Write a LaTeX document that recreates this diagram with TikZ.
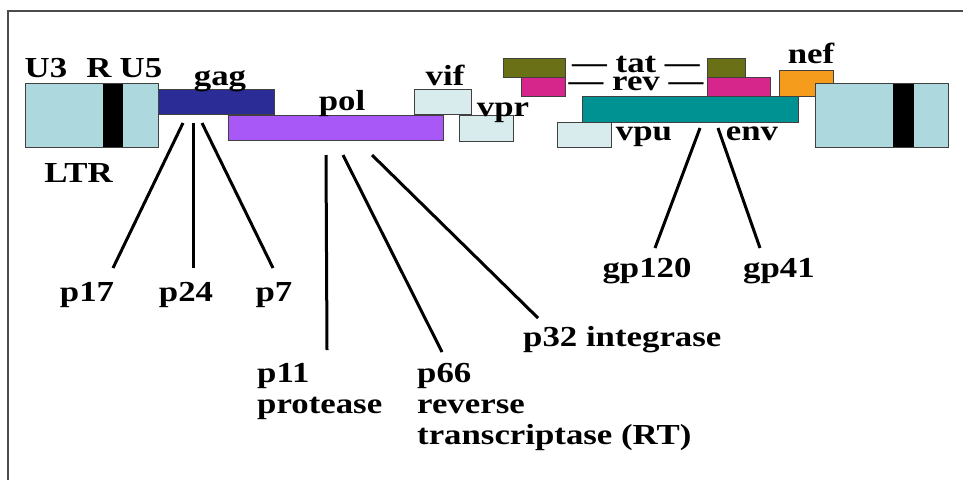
\documentclass[tikz,border=0pt]{standalone}
\usepackage{fontspec}
\setmainfont[FakeStretch=1.2]{Liberation Serif}
\definecolor{ltrc}{RGB}{172,216,222}
\definecolor{gagc}{RGB}{44,44,150}
\definecolor{polc}{RGB}{168,88,246}
\definecolor{accc}{RGB}{216,236,238}
\definecolor{tatc}{RGB}{106,112,22}
\definecolor{revc}{RGB}{214,38,140}
\definecolor{nefc}{RGB}{246,156,28}
\definecolor{envc}{RGB}{0,146,146}
\begin{document}
\begin{tikzpicture}[x=1pt,y=-1pt,
  lbl/.style={font=\fontsize{29}{31}\selectfont\bfseries, inner sep=0pt, anchor=base},
  mlbl/.style={font=\fontsize{29}{31}\selectfont\bfseries, inner sep=0pt, anchor=north west, align=left},
  gene/.style={draw=black!75, line width=0.8pt, inner sep=0pt, anchor=north west},
  band/.style={fill=black, draw=none, inner sep=0pt, anchor=north west},
  conn/.style={line width=3pt, black}]
\useasboundingbox (0,0) rectangle (963,480);
\fill[white] (0,0) rectangle (963,480);
\draw[line width=2pt, black!70] (963,11) -- (8,11) -- (8,480);

% left LTR
\node[gene, fill=ltrc, minimum width=133pt, minimum height=64pt] (ltrL) at (25,83) {};
\node[band, minimum width=20pt, minimum height=63pt] (bandL) at (103,83.5) {};
\node[lbl] (u3) at (46,77) {U3};
\node[lbl] (r) at (99,77) {R};
\node[lbl] (u5) at (141,77) {U5};
\node[lbl] (ltr) at (78.5,182) {LTR};

% gag, pol
\node[gene, fill=gagc, minimum width=116pt, minimum height=25pt] (gag) at (158,89) {};
\node[lbl] (gagl) at (220,85) {gag};
\node[gene, fill=polc, minimum width=215pt, minimum height=25pt] (pol) at (228,115) {};
\node[lbl] (poll) at (342,110) {pol};

% vif, vpr
\node[gene, fill=accc, minimum width=57pt, minimum height=25pt] (vif) at (414,89) {};
\node[lbl] (vifl) at (445,85) {vif};
\node[gene, fill=accc, minimum width=54pt, minimum height=26pt] (vpr) at (459,115) {};
\node[lbl] (vprl) at (503,116) {vpr};

% tat, rev
\node[gene, fill=tatc, minimum width=62pt, minimum height=19pt] (tat1) at (503,58) {};
\node[gene, fill=revc, minimum width=44pt, minimum height=19pt] (rev1) at (521,77) {};
\node[gene, fill=tatc, minimum width=38pt, minimum height=19pt] (tat2) at (707,58) {};
\node[gene, fill=revc, minimum width=63pt, minimum height=19pt] (rev2) at (707,77) {};
\node[lbl, text height=14pt, text depth=0pt] (tatl) at (636,72) {— tat —};
\node[lbl, text height=14pt, text depth=0pt] (revl) at (636,90) {— rev —};

% nef, env, vpu
\node[gene, fill=nefc, minimum width=54pt, minimum height=26pt] (nef) at (779,70) {};
\node[lbl] (nefl) at (811,63) {nef};
\node[gene, fill=envc, minimum width=216pt, minimum height=26pt] (env) at (582,96) {};
\node[gene, fill=accc, minimum width=54pt, minimum height=25pt] (vpu) at (557,122) {};
\node[lbl] (vpul) at (644,140) {vpu};
\node[lbl] (envl) at (752,140) {env};

% right LTR
\node[gene, fill=ltrc, minimum width=133pt, minimum height=64pt] (ltrR) at (815,83) {};
\node[band, minimum width=21pt, minimum height=63pt] (bandR) at (893,83.5) {};

% gag products
\node[lbl] (p17) at (87,301) {p17};
\node[lbl] (p24) at (186,301) {p24};
\node[lbl] (p7) at (274,301) {p7};
\coordinate (g1s) at (183,123); \coordinate (g1e) at (113,268);
\coordinate (g2s) at (193,123); \coordinate (g2e) at (193,268);
\coordinate (g3s) at (202,123); \coordinate (g3e) at (273,268);
\draw[conn] (g1s) -- (g1e);
\draw[conn] (g2s) -- (g2e);
\draw[conn] (g3s) -- (g3e);

% pol products
\node[mlbl] (p11) at (257,363) {p11\\protease};
\node[mlbl] (p66) at (417,363) {p66\\reverse\\transcriptase (RT)};
\node[lbl, anchor=base west] (p32) at (523,346) {p32 integrase};
\coordinate (q1s) at (326,155); \coordinate (q1e) at (327,350);
\coordinate (q2s) at (343,155); \coordinate (q2e) at (442,352);
\coordinate (q3s) at (372,155); \coordinate (q3e) at (538,318);
\draw[conn] (q1s) -- (q1e);
\draw[conn] (q2s) -- (q2e);
\draw[conn] (q3s) -- (q3e);

% env products
\node[lbl] (gp120) at (647,277) {gp120};
\node[lbl] (gp41) at (779,277) {gp41};
\coordinate (e1s) at (700,128); \coordinate (e1e) at (655,248);
\coordinate (e2s) at (718,128); \coordinate (e2e) at (760,248);
\draw[conn] (e1s) -- (e1e);
\draw[conn] (e2s) -- (e2e);
\end{tikzpicture}
\end{document}
